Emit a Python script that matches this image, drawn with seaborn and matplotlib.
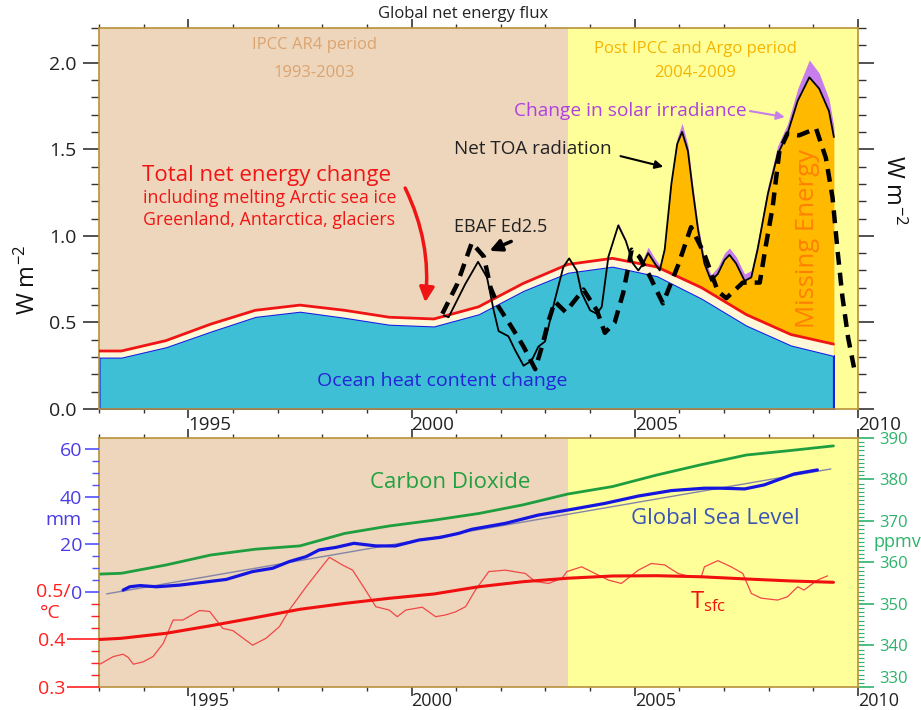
import numpy as np
import matplotlib
matplotlib.use("Agg")
import matplotlib.pyplot as plt
from matplotlib.ticker import MultipleLocator, FixedLocator, FormatStrFormatter
import seaborn as sns

sns.set_theme(style="ticks")
plt.rcParams["font.family"] = ["Open Sans", "DejaVu Sans"]
plt.rcParams["mathtext.default"] = "regular"

# ---------------- top panel: global net energy flux (W m-2) ----------------
ohc_year = [1993.0, 1993.5, 1994.5, 1995.5, 1996.5, 1997.5, 1998.5, 1999.5, 2000.5,
            2001.5, 2002.5, 2003.5, 2004.5, 2005.5, 2006.5, 2007.5, 2008.5, 2009.45]
ocean_heat = [0.30, 0.30, 0.36, 0.45, 0.535, 0.565, 0.53, 0.49, 0.48,
              0.55, 0.685, 0.79, 0.825, 0.77, 0.64, 0.485, 0.37, 0.31]
total_net = [0.335, 0.335, 0.395, 0.49, 0.57, 0.60, 0.57, 0.53, 0.52,
             0.59, 0.725, 0.835, 0.87, 0.82, 0.70, 0.545, 0.43, 0.375]

toa_year = [2000.72, 2000.83, 2001.2, 2001.49, 2001.69, 2001.84, 2001.95, 2002.17, 2002.32,
            2002.51, 2002.69, 2002.84, 2002.99, 2003.21, 2003.40, 2003.53, 2003.70, 2003.81,
            2004.0, 2004.15, 2004.26, 2004.41, 2004.63, 2004.80, 2004.96, 2005.08, 2005.19,
            2005.30, 2005.45, 2005.56, 2005.67, 2005.82, 2005.95, 2006.06, 2006.19, 2006.30,
            2006.42, 2006.56, 2006.71, 2006.86, 2007.01, 2007.12, 2007.27, 2007.46, 2007.61,
            2007.75, 2007.98, 2008.20, 2008.42, 2008.65, 2008.91, 2009.13, 2009.35, 2009.46]
net_toa = [0.54, 0.53, 0.72, 0.85, 0.76, 0.57, 0.45, 0.42, 0.34,
           0.25, 0.28, 0.36, 0.39, 0.63, 0.82, 0.87, 0.80, 0.67,
           0.57, 0.55, 0.59, 0.88, 1.06, 0.97, 0.84, 0.80, 0.84,
           0.90, 0.84, 0.80, 0.92, 1.30, 1.53, 1.60, 1.49, 1.26,
           1.03, 0.84, 0.74, 0.78, 0.86, 0.89, 0.84, 0.74, 0.76,
           0.92, 1.24, 1.47, 1.59, 1.78, 1.915, 1.85, 1.72, 1.57]
# extra from change in solar irradiance, on top of the net TOA curve
solar = [0.0] * 21 + [0.005, 0.015, 0.01, 0.01, 0.02, 0.03, 0.035, 0.03, 0.03, 0.03, 0.03,
                      0.035, 0.05, 0.035, 0.03, 0.03, 0.03, 0.035, 0.04, 0.04, 0.04, 0.04,
                      0.04, 0.04, 0.04, 0.045, 0.05, 0.055, 0.07, 0.10, 0.09, 0.07, 0.06]

ebaf_year = [2000.69, 2001.02, 2001.35, 2001.62, 2001.77, 2001.95, 2002.25, 2002.51, 2002.77,
             2002.92, 2003.07, 2003.21, 2003.45, 2003.85, 2004.15, 2004.33, 2004.55, 2004.74,
             2004.93, 2005.1, 2005.33, 2005.63, 2005.97, 2006.26, 2006.55, 2006.86, 2007.05,
             2007.42, 2007.8, 2007.94, 2008.09, 2008.24, 2008.42, 2008.68, 2009.06, 2009.28,
             2009.43, 2009.54, 2009.65, 2009.78, 2009.91]
ebaf = [0.55, 0.72, 0.96, 0.88, 0.70, 0.59, 0.47, 0.36, 0.23,
        0.36, 0.51, 0.62, 0.56, 0.69, 0.57, 0.44, 0.50, 0.67,
        0.92, 0.88, 0.77, 0.61, 0.83, 1.05, 0.90, 0.68, 0.64,
        0.73, 0.73, 0.95, 1.17, 1.49, 1.59, 1.58, 1.62, 1.45,
        1.22, 0.92, 0.65, 0.41, 0.24]

# ---------------- bottom panel ----------------
ann_year = ohc_year
co2_ppmv = [357.2, 357.4, 359.4, 361.8, 363.2, 364.0, 367.0, 368.8, 370.2,
            371.8, 373.9, 376.5, 378.3, 381.1, 383.6, 385.9, 387.0, 388.1]
tsfc_smooth = [0.400, 0.4025, 0.413, 0.429, 0.446, 0.4636, 0.476, 0.4867, 0.4958,
               0.511, 0.5217, 0.529, 0.5337, 0.5343, 0.532, 0.5274, 0.5232, 0.5204]

sl_year = [1993.54, 1993.69, 1993.92, 1994.29, 1994.81, 1995.25, 1995.85, 1996.44, 1996.89,
           1997.26, 1997.64, 1997.93, 1998.31, 1998.71, 1999.2, 1999.64, 2000.17, 2000.65,
           2001.06, 2001.35, 2002.10, 2002.84, 2003.59, 2004.33, 2005.08, 2005.82, 2006.56,
           2006.93, 2007.46, 2007.90, 2008.57, 2009.09]
sea_level_mm = [0.8, 2.2, 2.7, 2.2, 2.9, 3.9, 5.3, 8.6, 10.0,
                12.8, 14.9, 17.7, 18.8, 20.5, 19.4, 19.4, 21.9, 23.0,
                24.7, 26.4, 28.9, 32.4, 34.8, 37.3, 40.4, 42.7, 43.7,
                43.7, 43.4, 45.1, 49.7, 51.4]
trend_year = [1993.17, 2009.39]
trend_mm = [-0.8, 51.8]

tsfc_year = [1993.02, 1993.32, 1993.54, 1993.65, 1993.77, 1993.99, 1994.21, 1994.44, 1994.66,
             1994.88, 1995.25, 1995.48, 1995.77, 1996.0, 1996.44, 1996.74, 1997.04, 1997.26,
             1997.64, 1997.93, 1998.16, 1998.45, 1998.68, 1998.97, 1999.2, 1999.5, 1999.68,
             1999.87, 2000.24, 2000.54, 2000.76, 2000.98, 2001.21, 2001.43, 2001.73, 2002.1,
             2002.55, 2002.77, 2003.07, 2003.37, 2003.48, 2003.81, 2004.11, 2004.41, 2004.70,
             2005.08, 2005.37, 2005.67, 2005.97, 2006.27, 2006.49, 2006.56, 2006.86, 2007.16,
             2007.42, 2007.61, 2007.83, 2008.2, 2008.42, 2008.65, 2008.79, 2009.09, 2009.32]
tsfc = [0.348, 0.364, 0.369, 0.3625, 0.348, 0.353, 0.364, 0.392, 0.441,
        0.441, 0.461, 0.459, 0.4235, 0.4186, 0.388, 0.4025, 0.427, 0.462,
        0.511, 0.546, 0.573, 0.557, 0.546, 0.504, 0.469, 0.462, 0.448,
        0.462, 0.468, 0.448, 0.4516, 0.458, 0.469, 0.504, 0.543, 0.546,
        0.539, 0.522, 0.518, 0.529, 0.543, 0.553, 0.539, 0.525, 0.518,
        0.546, 0.560, 0.557, 0.539, 0.532, 0.532, 0.553, 0.566, 0.553,
        0.539, 0.497, 0.487, 0.483, 0.490, 0.511, 0.504, 0.525, 0.534]

year_ticks = [1995, 2000, 2005, 2010]
year_labels = ["1995", "2000", "2005", "2010"]
ppmv_ticks = [330, 340, 350, 360, 370, 380, 390]
period_split = 2003.5

TAN = "#EED6BC"
YEL = "#FFFF99"
SPINE = "#B8913A"
GREEN = "#2DB36B"
MMBLUE = "#4B3CE6"
TRED = "#FF2020"

fig = plt.figure(figsize=(9.21, 7.10), dpi=100)
ax = fig.add_axes([0.1075, 0.4239, 0.8241, 0.5367])
axb = fig.add_axes([0.1075, 0.0324, 0.8241, 0.3507])

for a in (ax, axb):
    a.axvspan(1993, period_split, color=TAN, lw=0, zorder=0)
    a.axvspan(period_split, 2010, color=YEL, lw=0, zorder=0)

# ---- top panel drawing ----
tx = np.array(toa_year)
ty = np.array(net_toa)
ax.fill_between(tx, 0, ty, where=tx >= 2005.0, color="#FFBA00", lw=0, zorder=1)
ax.fill_between(tx, ty, ty + np.array(solar), where=tx >= 2004.3, color="#C77DEB", lw=0, zorder=1.2)
ax.fill_between(ohc_year, 0, ocean_heat, facecolor="#3EBFD5", edgecolor="#1A1AE6", lw=1.5, zorder=2)
ax.fill_between(ohc_year, ocean_heat, total_net, color="#FFF8D8", lw=0, zorder=2)
sns.lineplot(x=ohc_year, y=total_net, color="#F01515", lw=2, ax=ax, zorder=3)
sns.lineplot(x=toa_year, y=net_toa, color="black", lw=1.3, ax=ax, zorder=4)
sns.lineplot(x=ebaf_year, y=ebaf, color="black", lw=3.2, ax=ax, zorder=5)
ax.lines[-1].set_dashes([2.9, 1.8])

ax.text(1997.82, 2.10, "IPCC AR4 period", color="#DBA470", fontsize=12, ha="center", va="center")
ax.text(1997.82, 1.94, "1993-2003", color="#DBA470", fontsize=12, ha="center", va="center")
ax.text(2006.36, 2.08, "Post IPCC and Argo period", color="#F5B400", fontsize=12, ha="center", va="center")
ax.text(2006.36, 1.94, "2004-2009", color="#F5B400", fontsize=12, ha="center", va="center")
ax.text(1993.96, 1.35, "Total net energy change", color="#F01515", fontsize=16, ha="left", va="center")
ax.text(1993.98, 1.216, "including melting Arctic sea ice", color="#F01515", fontsize=12.8,
        ha="left", va="center")
ax.text(1993.98, 1.089, "Greenland, Antarctica, glaciers", color="#F01515", fontsize=12.8,
        ha="left", va="center")
ax.annotate("", xy=(2000.3, 0.60), xytext=(1999.83, 1.29),
            arrowprops=dict(arrowstyle="-|>", color="#F01515", lw=2.5, mutation_scale=22,
                            connectionstyle="arc3,rad=-0.15"))
ax.text(2000.95, 1.05, "EBAF Ed2.5", color="#222222", fontsize=13, ha="left", va="center")
ax.annotate("", xy=(2001.69, 0.907), xytext=(2002.29, 0.974),
            arrowprops=dict(arrowstyle="-|>", color="black", lw=2.5, mutation_scale=18))
ax.text(2000.95, 1.504, "Net TOA radiation", color="#222222", fontsize=13.6, ha="left", va="center")
ax.annotate("", xy=(2005.70, 1.395), xytext=(2004.62, 1.464),
            arrowprops=dict(arrowstyle="-|>", color="black", lw=1.5, mutation_scale=12))
ax.text(2002.29, 1.718, "Change in solar irradiance", color="#B040E0", fontsize=13.8,
        ha="left", va="center")
ax.annotate("", xy=(2008.42, 1.683), xytext=(2007.52, 1.723),
            arrowprops=dict(arrowstyle="-|>", color="#C77DEB", lw=1.5, mutation_scale=12))
ax.text(2008.87, 0.986, "Missing Energy", color="#FF8000", fontsize=18.5, rotation=90,
        ha="center", va="center")
ax.text(1997.89, 0.161, "Ocean heat content change", color="#2323D8", fontsize=14, ha="left", va="center")

ax.set_xlim(1993, 2010)
ax.set_ylim(0, 2.2)
ax.yaxis.set_major_locator(MultipleLocator(0.5))
ax.yaxis.set_minor_locator(MultipleLocator(0.1))
ax.yaxis.set_major_formatter(FormatStrFormatter("%.1f"))
ax.tick_params(axis="y", which="both", left=True, right=True, direction="out",
               colors="#333333", labelcolor="#222222", labelsize=14)
ax.tick_params(axis="y", which="major", length=11.5, width=1.2, pad=5)
ax.tick_params(axis="y", which="minor", length=6, width=1.0)
ax.set_xticks(year_ticks)
ax.set_xticklabels(year_labels, ha="left")
ax.xaxis.set_minor_locator(MultipleLocator(1))
ax.tick_params(axis="x", which="both", top=True, bottom=True, direction="out",
               colors="#333333", labelcolor="#222222", labelsize=13.5, pad=-1.5)
ax.tick_params(axis="x", which="major", length=6.5, width=1.2)
ax.tick_params(axis="x", which="minor", length=3, width=1.0)
ax.set_xlabel("")
ax.set_ylabel("")

# ---- bottom panel drawing ----
ax_t = axb.twinx()
ax_m = axb.twinx()
axb.yaxis.tick_right()
for a in (ax_t, ax_m):
    a.yaxis.tick_left()
    for s in a.spines.values():
        s.set_visible(False)

sns.lineplot(x=ann_year, y=co2_ppmv, ax=axb, color="#1E9E3E", lw=2)
sns.lineplot(x=tsfc_year, y=tsfc, ax=ax_t, color="#F04848", lw=0.9)
sns.lineplot(x=ann_year, y=tsfc_smooth, ax=ax_t, color="#F01010", lw=2.2)
sns.lineplot(x=trend_year, y=trend_mm, ax=ax_m, color="#8484A8", lw=1)
sns.lineplot(x=sl_year, y=sea_level_mm, ax=ax_m, color="#1515E0", lw=2.3)

axb.text(1999.07, 379.2, "Carbon Dioxide", color="#22A040", fontsize=16, ha="left", va="center")
axb.text(2004.92, 370.5, "Global Sea Level", color="#3A55B5", fontsize=16, ha="left", va="center")
axb.text(2006.24, 350.5, r"T$_{sfc}$", color="#F01010", fontsize=17, ha="left", va="center")

axb.set_xlim(1993, 2010)
axb.set_ylim(330, 390)
axb.set_yticks(ppmv_ticks)
axb.set_yticklabels([str(v) for v in ppmv_ticks])
axb.yaxis.set_minor_locator(MultipleLocator(1))
axb.tick_params(axis="y", which="both", right=True, left=False, direction="out",
                colors=GREEN, labelsize=12)
axb.tick_params(axis="y", which="major", length=11.5, width=1.2, pad=3.5)
axb.tick_params(axis="y", which="minor", length=4.3, width=0.8)
axb.yaxis.get_major_ticks()[0].label2.set_va("bottom")
axb.set_xticks(year_ticks)
axb.set_xticklabels(year_labels, ha="left")
axb.xaxis.set_minor_locator(MultipleLocator(1))
axb.tick_params(axis="x", which="both", top=True, bottom=True, direction="out",
                colors="#333333", labelcolor="#222222", labelsize=13, pad=-3)
axb.tick_params(axis="x", which="major", length=6.5, width=1.2)
axb.tick_params(axis="x", which="minor", length=3, width=1.0)
axb.set_xlabel("")
axb.set_ylabel("")

ax_t.set_ylim(0.3, 0.8242)
ax_t.set_yticks([0.3, 0.4])
ax_t.set_yticklabels(["0.3", "0.4"])
ax_t.yaxis.set_minor_locator(FixedLocator([0.325, 0.35, 0.375, 0.425, 0.45, 0.475]))
ax_t.tick_params(axis="y", which="both", colors=TRED, labelsize=14)
ax_t.tick_params(axis="y", which="major", length=23, width=1.2, pad=1.5)
ax_t.tick_params(axis="y", which="minor", length=5.5, width=1.0)
ax_t.set_ylabel("")
ax_t.annotate("0.5/", xy=(0, 0.5), xycoords=("axes fraction", "data"), xytext=(-20.2, 0),
              textcoords="offset points", ha="right", va="center", color=TRED, fontsize=14)

ax_m.set_ylim(-40, 64.84)
ax_m.set_yticks([0, 20, 40, 60])
ax_m.set_yticklabels(["0", "20", "40", "60"])
ax_m.yaxis.set_minor_locator(FixedLocator([5, 10, 15, 25, 30, 35, 45, 50, 55]))
ax_m.tick_params(axis="y", which="both", colors="#5050FF", labelcolor=MMBLUE, labelsize=14)
ax_m.tick_params(axis="y", which="major", length=10, width=1.2, pad=2)
ax_m.tick_params(axis="y", which="minor", length=5, width=1.0)
ax_m.set_ylabel("")
ax_m.set_xlim(1993, 2010)

for a in (ax, axb):
    for s in a.spines.values():
        s.set_color(SPINE)
        s.set_linewidth(1.2)

# ---- figure-level labels ----
fig.text(463 / 921, 1 - 14 / 710, "Global net energy flux", ha="center", va="center",
         fontsize=12, color="#222222")
fig.text(28 / 921, 1 - 280 / 710, r"W m$^{-2}$", rotation=90, ha="center", va="center",
         fontsize=17, color="#111111")
fig.text(893 / 921, 1 - 190 / 710, r"W m$^{-2}$", rotation=270, ha="center", va="center",
         fontsize=17, color="#111111")
fig.text(82 / 921, 1 - 520 / 710, "mm", ha="right", va="center", fontsize=14, color=MMBLUE)
fig.text(40 / 921, 1 - 613 / 710, "°C", ha="left", va="center", fontsize=14, color=TRED)
fig.text(873 / 921, 1 - 542 / 710, "ppmv", ha="left", va="center", fontsize=13, color=GREEN)

fig.savefig("out.png", dpi=100)
